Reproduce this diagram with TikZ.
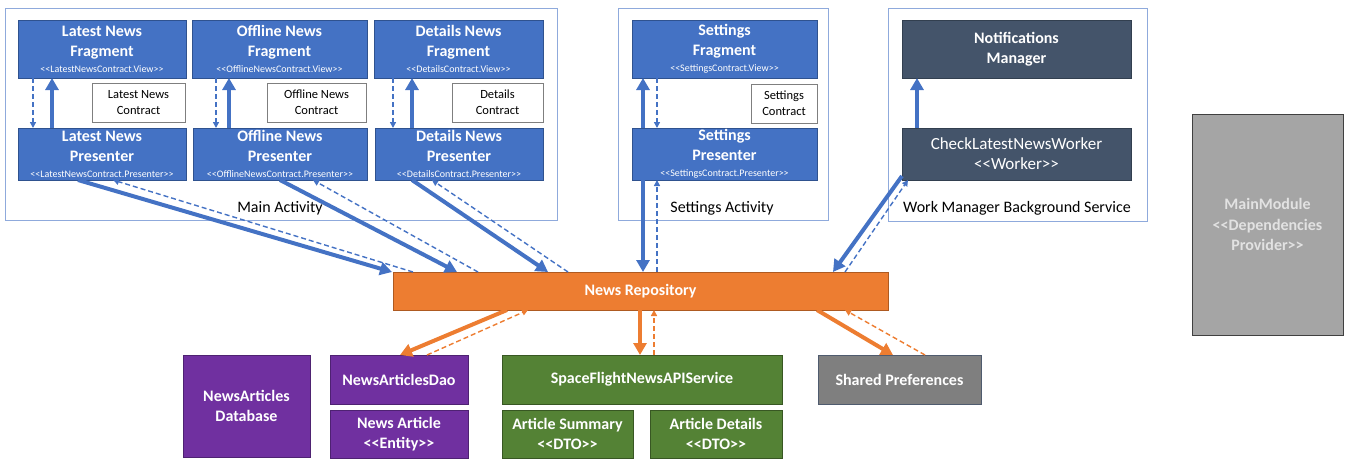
\documentclass[tikz,border=0pt]{standalone}
\usepackage{fontspec}
\setmainfont{Carlito}
\usetikzlibrary{arrows.meta,calc}
\definecolor{cblue}{HTML}{4472C4}
\definecolor{cblueb}{HTML}{2F528F}
\definecolor{cframe}{HTML}{8FAADC}
\definecolor{corange}{HTML}{ED7D31}
\definecolor{coranb}{HTML}{AE5A21}
\definecolor{cpurple}{HTML}{7030A0}
\definecolor{cpurb}{HTML}{4E2272}
\definecolor{cgreen}{HTML}{548235}
\definecolor{cgreenb}{HTML}{385723}
\definecolor{cgray}{HTML}{7F7F7F}
\definecolor{cgrayb}{HTML}{4F5B6E}
\definecolor{cnavy}{HTML}{44546A}
\definecolor{cnavyb}{HTML}{323F4F}
\definecolor{cmm}{HTML}{A5A5A5}
\definecolor{cmmt}{HTML}{E2E2E2}
\newcommand\stfont{\fontsize{10}{11}\mdseries\selectfont}
\newcommand\lto{<{}<}
\newcommand\gto{>{}>}
\begin{document}
\begin{tikzpicture}[x=1pt,y=-1pt,
  base/.style={rectangle,inner sep=0pt,outer sep=0pt,align=center,text=white,line width=0.6pt},
  bluebox/.style={base,fill=cblue,draw=cblueb,font=\fontsize{16}{20}\selectfont\bfseries},
  contract/.style={rectangle,inner sep=0pt,outer sep=0pt,align=center,fill=white,draw=cgray,line width=0.6pt,font=\fontsize{12.5}{16}\selectfont},
  frame/.style={draw=cframe,line width=1pt,fill=none},
  framelabel/.style={font=\fontsize{16}{20}\selectfont,inner sep=0pt},
  navybox/.style={base,fill=cnavy,draw=cnavyb,font=\fontsize{17}{20}\selectfont},
  purplebox/.style={base,fill=cpurple,draw=cpurb,font=\fontsize{16}{20}\selectfont\bfseries},
  greenbox/.style={base,fill=cgreen,draw=cgreenb,font=\fontsize{16}{20}\selectfont\bfseries},
  bsolid/.style={draw=cblue,line width=4pt,-{Triangle[length=12pt,width=13pt]}},
  bdash/.style={draw=cblue,line width=1.4pt,dash pattern=on 5pt off 3pt,-{Triangle[length=6pt,width=6pt]}},
  osolid/.style={draw=corange,line width=4pt,-{Triangle[length=12pt,width=13pt]}},
  odash/.style={draw=corange,line width=1.4pt,dash pattern=on 5pt off 3pt,-{Triangle[length=6pt,width=6pt]}},
]
\useasboundingbox (0,0) rectangle (1350,464);
% frames
\draw[frame] (5,8) rectangle (557,220);
\draw[frame] (618,8) rectangle (828,220);
\draw[frame] (888,8) rectangle (1147,221);
\node[framelabel] (lma) at (280,208) {Main Activity};
\node[framelabel] (lsa) at (722,208) {Settings Activity};
\node[framelabel] (lwm) at (1017,208) {Work Manager Background Service};
% main activity
\node[bluebox,minimum width=168pt,minimum height=58pt] (LF) at (102,49) {Latest News\\Fragment\\[-4pt]{\stfont \lto LatestNewsContract.View\gto}};
\node[contract,minimum width=93pt,minimum height=39pt] (LC) at (138.5,102.5) {Latest News\\Contract};
\node[bluebox,minimum width=168pt,minimum height=52pt] (LP) at (102,154) {Latest News\\Presenter\\[-4pt]{\stfont \lto LatestNewsContract.Presenter\gto}};
\node[bluebox,minimum width=175pt,minimum height=58pt] (OF) at (279.5,49) {Offline News\\Fragment\\[-4pt]{\stfont \lto OfflineNewsContract.View\gto}};
\node[contract,minimum width=99pt,minimum height=39pt] (OC) at (316.5,102.5) {Offline News\\Contract};
\node[bluebox,minimum width=174pt,minimum height=52pt] (OP) at (280,154) {Offline News\\Presenter\\[-4pt]{\stfont \lto OfflineNewsContract.Presenter\gto}};
\node[bluebox,minimum width=169pt,minimum height=58pt] (DF) at (458.5,49) {Details News\\Fragment\\[-4pt]{\stfont \lto DetailsContract.View\gto}};
\node[contract,minimum width=91pt,minimum height=39pt] (DC) at (497.5,102.5) {Details\\Contract};
\node[bluebox,minimum width=168pt,minimum height=52pt] (DP) at (459,154) {Details News\\Presenter\\[-4pt]{\stfont \lto DetailsContract.Presenter\gto}};
% settings
\node[bluebox,minimum width=185pt,minimum height=58pt] (SF) at (724.5,49) {Settings\\Fragment\\[-4pt]{\stfont \lto SettingsContract.View\gto}};
\node[contract,minimum width=66pt,minimum height=39pt] (SC) at (784,103.5) {Settings\\Contract};
\node[bluebox,minimum width=185pt,minimum height=52pt] (SP) at (724.5,154) {Settings\\Presenter\\[-4pt]{\stfont \lto SettingsContract.Presenter\gto}};
% work manager
\node[navybox,font=\fontsize{16}{20}\selectfont\bfseries,minimum width=229pt,minimum height=58pt] (NM) at (1016.5,49) {Notifications\\Manager};
\node[navybox,minimum width=229pt,minimum height=52pt] (W) at (1016.5,154) {CheckLatestNewsWorker\\\lto Worker\gto};
% main module
\node[base,fill=cmm,draw=black!75,line width=1pt,text=cmmt,font=\fontsize{16}{20.5}\selectfont\bfseries,minimum width=151pt,minimum height=221pt] (MM) at (1267.5,224.5) {MainModule\\\lto Dependencies\\Provider\gto};
% repository
\node[base,fill=corange,draw=coranb,font=\fontsize{16}{20}\selectfont\bfseries,minimum width=495pt,minimum height=38pt] (NR) at (640.5,291) {News Repository};
% bottom
\node[purplebox,minimum width=127pt,minimum height=102pt] (DB) at (246.5,406) {NewsArticles\\Database};
\node[purplebox,minimum width=138pt,minimum height=49pt] (Dao) at (399,379.5) {NewsArticlesDao};
\node[purplebox,minimum width=138pt,minimum height=48pt] (Ent) at (399,434) {News Article\\\lto Entity\gto};
\node[greenbox,minimum width=280pt,minimum height=49pt] (API) at (642,379.5) {SpaceFlightNewsAPIService};
\node[greenbox,minimum width=131pt,minimum height=48pt] (AS) at (567.5,434) {Article Summary\\\lto DTO\gto};
\node[greenbox,minimum width=132pt,minimum height=48pt] (AD) at (716,434) {Article Details\\\lto DTO\gto};
\node[base,fill=cgray,draw=cgrayb,font=\fontsize{16}{20}\selectfont\bfseries,minimum width=163pt,minimum height=49pt] (SPf) at (899.5,379.5) {Shared Preferences};
% inner arrows
\draw[bdash] ([xshift=15pt]LF.south west) -- ([xshift=15pt]LP.north west);
\draw[bsolid] ([xshift=34pt]LP.north west) -- ([xshift=34pt]LF.south west);
\draw[bdash] ([xshift=24pt]OF.south west) -- ([xshift=23pt]OP.north west);
\draw[bsolid] ([xshift=36pt]OP.north west) -- ([xshift=37pt]OF.south west);
\draw[bdash] ([xshift=19pt]DF.south west) -- ([xshift=18pt]DP.north west);
\draw[bsolid] ([xshift=37pt]DP.north west) -- ([xshift=38pt]DF.south west);
\draw[bdash] ([xshift=25pt]SF.south west) -- ([xshift=25pt]SP.north west);
\draw[bsolid] ([xshift=11pt]SP.north west) -- ([xshift=11pt]SF.south west);
\draw[bsolid] ([xshift=15pt]W.north west) -- ([xshift=15pt]NM.south west);
% presenters to repository
\draw[bsolid] ([xshift=60pt]LP.south west) -- ([xshift=-1pt]NR.north west);
\draw[bdash] ([xshift=20pt]NR.north west) -- ([xshift=95pt]LP.south west);
\draw[bsolid] ([xshift=87pt]OP.south west) -- ([xshift=64pt]NR.north west);
\draw[bdash] ([xshift=85pt]NR.north west) -- ([xshift=120pt]OP.south west);
\draw[bsolid] ([xshift=37pt]DP.south west) -- ([xshift=155pt]NR.north west);
\draw[bdash] ([xshift=175pt]NR.north west) -- ([xshift=57pt]DP.south west);
\draw[bsolid] ([xshift=11pt]SP.south west) -- ([xshift=250pt]NR.north west);
\draw[bdash] ([xshift=264pt]NR.north west) -- ([xshift=25pt]SP.south west);
\draw[bsolid] ([yshift=4pt]W.south west) -- ([xshift=440pt]NR.north west);
\draw[bdash] ([xshift=452pt]NR.north west) -- ([xshift=6pt]W.south west);
% repository to bottom
\draw[osolid] ([xshift=114pt]NR.south west) -- ([xshift=70pt]Dao.north west);
\draw[odash] ([xshift=97pt]Dao.north west) -- ([xshift=135pt]NR.south west);
\draw[osolid] ([xshift=247pt]NR.south west) -- ([xshift=138pt]API.north west);
\draw[odash] ([xshift=152pt]API.north west) -- ([xshift=261pt]NR.south west);
\draw[osolid] ([xshift=424pt]NR.south west) -- ([xshift=75pt]SPf.north west);
\draw[odash] ([xshift=107pt]SPf.north west) -- ([xshift=452pt]NR.south west);
\end{tikzpicture}
\end{document}
